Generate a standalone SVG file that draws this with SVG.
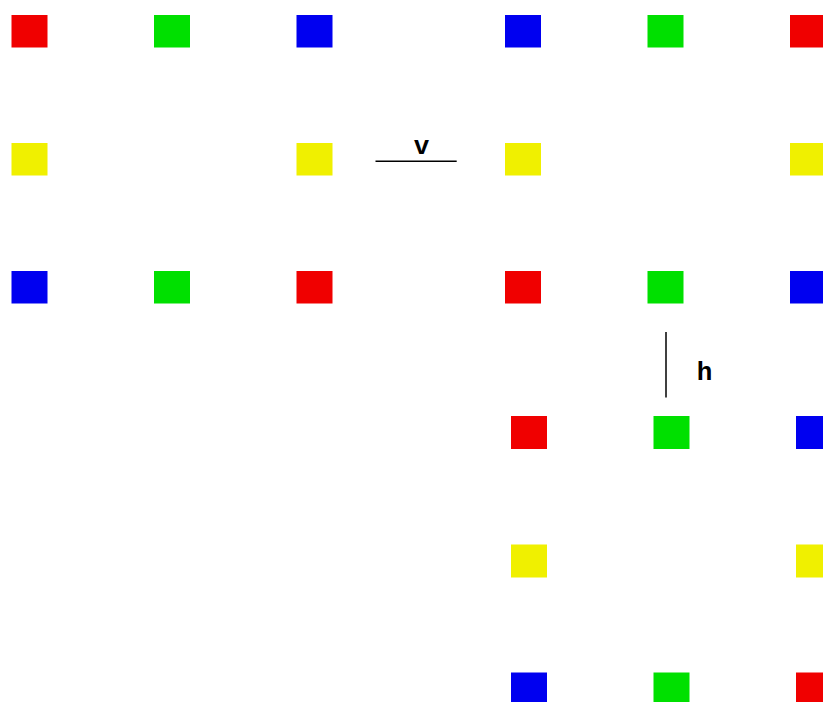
<svg xmlns="http://www.w3.org/2000/svg" width="823" height="702" viewBox="0 0 823 702">
<style>
.r{fill:#f00000}.g{fill:#00e000}.b{fill:#0000f0}.y{fill:#f0f000}
.lbl{font-weight:bold;font-size:26px;fill:#000}
.ln{stroke:#000;stroke-width:1.5;fill:none}
</style>
<rect width="823" height="702" fill="#fff"/>
<g id="groupA">
<rect class="r" x="11.5" y="15" width="36" height="32.5"/>
<rect class="g" x="154" y="15" width="36" height="32.5"/>
<rect class="b" x="296.5" y="15" width="36" height="32.5"/>
<rect class="y" x="11.5" y="143" width="36" height="32.5"/>
<rect class="y" x="296.5" y="143" width="36" height="32.5"/>
<rect class="b" x="11.5" y="271" width="36" height="32.5"/>
<rect class="g" x="154" y="271" width="36" height="32.5"/>
<rect class="r" x="296.5" y="271" width="36" height="32.5"/>
</g>
<g id="groupB">
<rect class="b" x="505" y="15" width="36" height="32.5"/>
<rect class="g" x="647.5" y="15" width="36" height="32.5"/>
<rect class="r" x="790" y="15" width="36" height="32.5"/>
<rect class="y" x="505" y="143" width="36" height="32.5"/>
<rect class="y" x="790" y="143" width="36" height="32.5"/>
<rect class="r" x="505" y="271" width="36" height="32.5"/>
<rect class="g" x="647.5" y="271" width="36" height="32.5"/>
<rect class="b" x="790" y="271" width="36" height="32.5"/>
</g>
<g id="groupC">
<rect class="r" x="511" y="416" width="36" height="33"/>
<rect class="g" x="653.5" y="416" width="36" height="33"/>
<rect class="b" x="796" y="416" width="36" height="33"/>
<rect class="y" x="511" y="544.5" width="36" height="33"/>
<rect class="y" x="796" y="544.5" width="36" height="33"/>
<rect class="b" x="511" y="672.5" width="36" height="33"/>
<rect class="g" x="653.5" y="672.5" width="36" height="33"/>
<rect class="r" x="796" y="672.5" width="36" height="33"/>
</g>
<g id="connectors">
<line class="ln" x1="375.5" y1="161.3" x2="456.7" y2="161.3"/>
<text class="lbl" font-family="'Liberation Mono', 'Courier New', 'DejaVu Sans Mono', monospace" x="421.5" y="153.5" text-anchor="middle">v</text>
<line class="ln" x1="666" y1="332" x2="666" y2="397.5"/>
<text class="lbl" font-family="'Liberation Mono', 'Courier New', 'DejaVu Sans Mono', monospace" x="704.5" y="379.5" text-anchor="middle">h</text>
</g>
</svg>
